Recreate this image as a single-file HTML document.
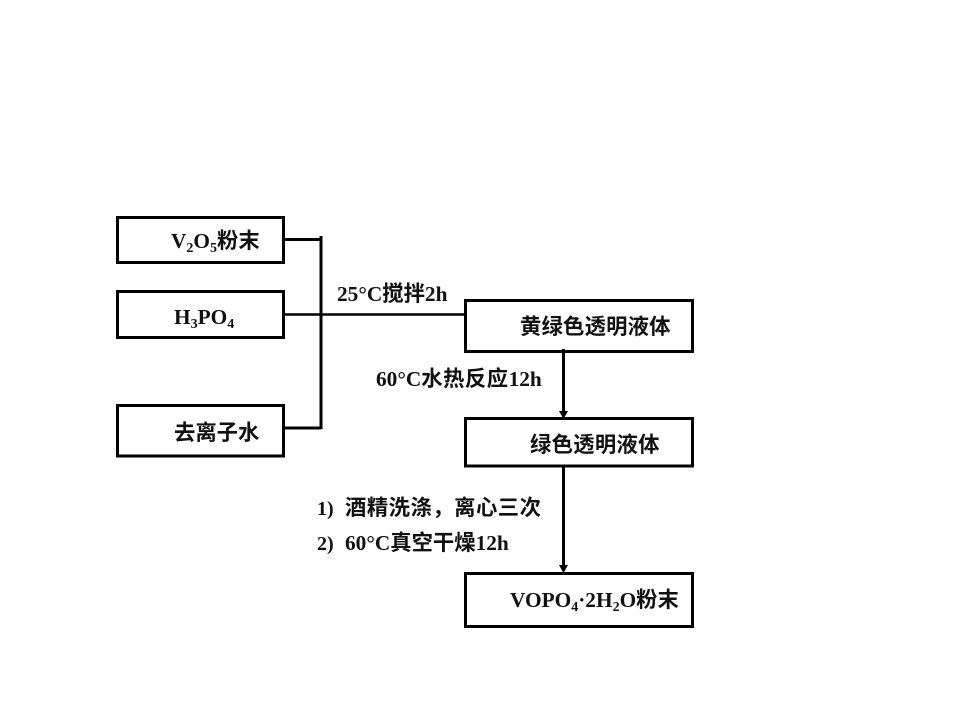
<!DOCTYPE html>
<html>
<head>
<meta charset="utf-8">
<style>
html,body{margin:0;padding:0;background:#fff}
svg{display:block}
text{font-family:"Liberation Serif","Noto Sans CJK SC",sans-serif;font-weight:700;font-size:21.33px;fill:#111}
.s{font-size:14px}
</style>
</head>
<body>
<svg width="960" height="720" viewBox="0 0 960 720" xmlns="http://www.w3.org/2000/svg">
<rect width="960" height="720" fill="#fff"/>
<g fill="none" stroke="#000" stroke-width="3">
<rect x="117.500" y="217.500" width="166" height="45"/>
<rect x="117.500" y="291.500" width="166" height="46"/>
<rect x="117.500" y="405.500" width="166" height="50.500"/>
<rect x="465.500" y="300.500" width="227" height="51"/>
<rect x="465.500" y="418.500" width="227" height="47.500"/>
<rect x="465.500" y="573.500" width="227" height="53"/>
<path d="M321 236V429"/>
<path d="M285 239.500H321"/>
<path d="M285 428H321"/>
<path d="M563.500 349V413"/>
<path d="M563.500 465V567"/>
</g>
<path d="M285 314.500H465" stroke="#000" stroke-width="2.500" fill="none"/>
<path d="M559 411H568L563.500 419Z" fill="#000"/>
<path d="M559 565H568L563.500 573Z" fill="#000"/>

<text x="171" y="248">V<tspan class="s" dy="4">2</tspan><tspan dy="-4">O</tspan><tspan class="s" dy="4">5</tspan><tspan dy="-4">粉末</tspan></text>
<text x="174" y="324">H<tspan class="s" dy="4">3</tspan><tspan dy="-4">PO</tspan><tspan class="s" dy="4">4</tspan></text>
<text x="174" y="440">去离子水</text>
<text x="337" y="301">25°C搅拌2h</text>
<text x="520" y="334" letter-spacing="0.200">黄绿色透明液体</text>
<text x="376" y="386">60°C<tspan letter-spacing="0.500">水热反应</tspan>12h</text>
<text x="530" y="452" letter-spacing="0.300">绿色透明液体</text>
<text x="317" y="515" style="font-size:20px">1)</text>
<text x="345" y="515" letter-spacing="0.500">酒精洗涤，离心三次</text>
<text x="317" y="550" style="font-size:20px">2)</text>
<text x="345" y="550">60°C真空干燥12h</text>
<text x="510" y="607">VOPO<tspan class="s" dy="4">4</tspan><tspan dy="-4">·2H</tspan><tspan class="s" dy="4">2</tspan><tspan dy="-4">O粉末</tspan></text>
</svg>
</body>
</html>
